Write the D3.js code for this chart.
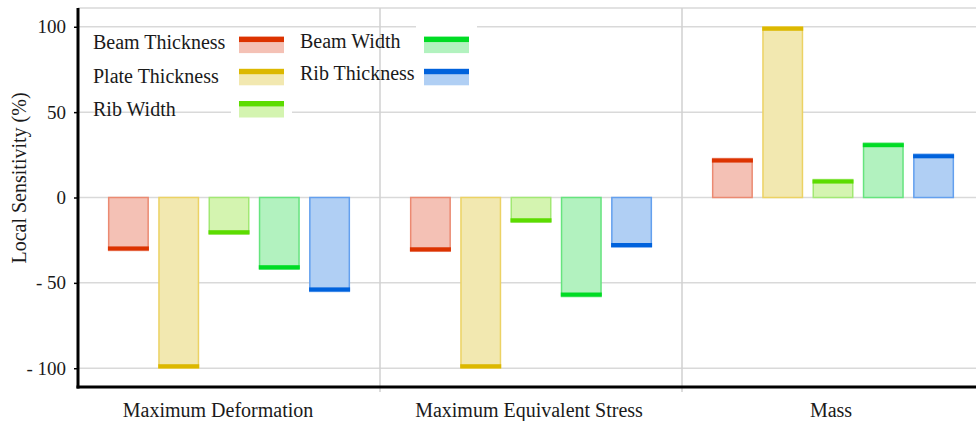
<!DOCTYPE html>
<html>
<head>
<meta charset="utf-8">
<script src="https://cdn.jsdelivr.net/npm/d3@7"></script>
<style>
  html, body { margin: 0; padding: 0; background: #fff; }
  svg { display: block; }
  text { font-family: "Liberation Serif", "Times New Roman", serif; fill: #1a1a1a; }
</style>
</head>
<body>
<svg id="chart" width="976" height="421"></svg>
<script>
// ---- data ----
const categories = ["Maximum Deformation", "Maximum Equivalent Stress", "Mass"];
const seriesNames = ["Beam Thickness", "Plate Thickness", "Rib Width", "Beam Width", "Rib Thickness"];
const beamThickness  = [-31, -31.5, 22.8];
const plateThickness = [-100, -100, 100];
const ribWidth       = [-21.5, -14.5, 10.5];
const beamWidth      = [-42, -58, 31.8];
const ribThickness   = [-55, -29, 25.3];
const yTicks = [-100, -50, 0, 50, 100];
const darkColors   = ["#dc3300", "#dcb800", "#5cdc00", "#00dc24", "#0062dc"];
const lightColors  = ["#f4c1b5", "#f2e8b0", "#d4f4b0", "#b2f2bf", "#b0cff4"];
const borderColors = ["#eb8a72", "#ecd264", "#a2e874", "#66e47e", "#64a0ee"];

const seriesValues = [beamThickness, plateThickness, ribWidth, beamWidth, ribThickness];

// ---- layout ----
const svg = d3.select("#chart");
const pL = 78, pR = 984, pT = 8, pB = 387;

const x0 = d3.scaleBand().domain(categories).range([pL, pR]).paddingInner(0).paddingOuter(0);
const x1 = d3.scaleBand().domain(seriesNames).range([0, x0.bandwidth()]).paddingInner(0.185).paddingOuter(0.595);
const y = d3.scaleLinear().domain([-111, 111]).range([pB, pT]);

const g = svg.append("g");

// top border
g.append("line").attr("x1", pL).attr("x2", 976).attr("y1", pT).attr("y2", pT)
  .attr("stroke", "#d9d9d9").attr("stroke-width", 1.5);

// horizontal gridlines
g.selectAll("line.hgrid").data(yTicks).join("line").attr("class", "hgrid")
  .attr("x1", pL).attr("x2", 976)
  .attr("y1", d => y(d)).attr("y2", d => y(d))
  .attr("stroke", "#d9d9d9").attr("stroke-width", 1.5);

// vertical gridlines at category boundaries
g.selectAll("line.vgrid").data(categories.slice(1)).join("line").attr("class", "vgrid")
  .attr("x1", d => x0(d)).attr("x2", d => x0(d))
  .attr("y1", pT).attr("y2", pB + 5)
  .attr("stroke", "#d0d0d0").attr("stroke-width", 1.5);

// bars
const barData = [];
categories.forEach((c, ci) => {
  seriesNames.forEach((s, si) => {
    barData.push({ cat: c, series: s, si: si, value: seriesValues[si][ci] });
  });
});

const capH = 4;
const bars = g.append("g").selectAll("g.bar").data(barData).join("g").attr("class", "bar");
bars.append("rect")
  .attr("x", d => x0(d.cat) + x1(d.series) + 0.75)
  .attr("width", x1.bandwidth() - 1.5)
  .attr("y", d => Math.min(y(0), y(d.value)))
  .attr("height", d => Math.abs(y(d.value) - y(0)))
  .attr("fill", d => lightColors[d.si])
  .attr("stroke", d => borderColors[d.si])
  .attr("stroke-width", 1.5);
bars.append("rect")
  .attr("x", d => x0(d.cat) + x1(d.series))
  .attr("width", x1.bandwidth())
  .attr("y", d => d.value >= 0 ? y(d.value) : y(d.value) - capH)
  .attr("height", capH)
  .attr("fill", d => darkColors[d.si]);

// y axis
const yAxis = d3.axisLeft(y).tickValues(yTicks).tickSize(4).tickPadding(8).tickFormat(d3.format("d"));
const ya = svg.append("g").attr("transform", `translate(${pL},0)`).call(yAxis);
ya.select(".domain").remove();
ya.selectAll(".tick line").attr("stroke", "#000").attr("stroke-width", 1.5);
ya.selectAll(".tick text").style("font-size", "19px").attr("fill", "#1a1a1a")
  .text(d => d < 0 ? "- " + Math.abs(d) : d);
svg.append("line").attr("x1", pL).attr("x2", pL).attr("y1", pT).attr("y2", pB + 1.5)
  .attr("stroke", "#000").attr("stroke-width", 3);

// x axis
svg.append("line").attr("x1", pL - 1.5).attr("x2", 976).attr("y1", pB).attr("y2", pB)
  .attr("stroke", "#000").attr("stroke-width", 3);
const xAxis = d3.axisBottom(x0).tickSize(0).tickPadding(0);
const xa = svg.append("g").attr("transform", `translate(0,${pB})`).call(xAxis);
xa.select(".domain").remove();
xa.selectAll(".tick text").style("font-size", "20px").attr("fill", "#1a1a1a")
  .attr("dy", null).attr("y", 29.5)
  .attr("dx", (d, i) => i === 0 ? -11 : -2);

// y axis title
svg.append("text")
  .attr("transform", "translate(26,178) rotate(-90)")
  .attr("text-anchor", "middle")
  .style("font-size", "20px")
  .text("Local Sensitivity (%)");

// legend
const legendCols = [
  { textX: 93, swX: 239, boxTop: -3, boxH: 24 },
  { textX: 300, swX: 424, boxTop: -13, boxH: 34 }
];
const lg = svg.append("g");
seriesNames.forEach((s, i) => {
  const col = Math.floor(i / 3), row = i % 3;
  const c = legendCols[col];
  const swTop = 36.6 + row * 32.2;
  const base = (col === 0 ? 49 : 48.2) + row * (col === 0 ? 33.5 : 32);
  lg.append("rect").attr("x", c.swX - 8).attr("y", swTop + c.boxTop)
    .attr("width", 61).attr("height", c.boxH).attr("fill", "#fff");
  lg.append("rect").attr("x", c.swX).attr("y", swTop + 5.5).attr("width", 45).attr("height", 11)
    .attr("fill", lightColors[i]);
  lg.append("rect").attr("x", c.swX).attr("y", swTop).attr("width", 45).attr("height", 5.5)
    .attr("fill", darkColors[i]);
  lg.append("text").attr("x", c.textX).attr("y", base).style("font-size", "20px").text(s);
});
</script>
</body>
</html>
